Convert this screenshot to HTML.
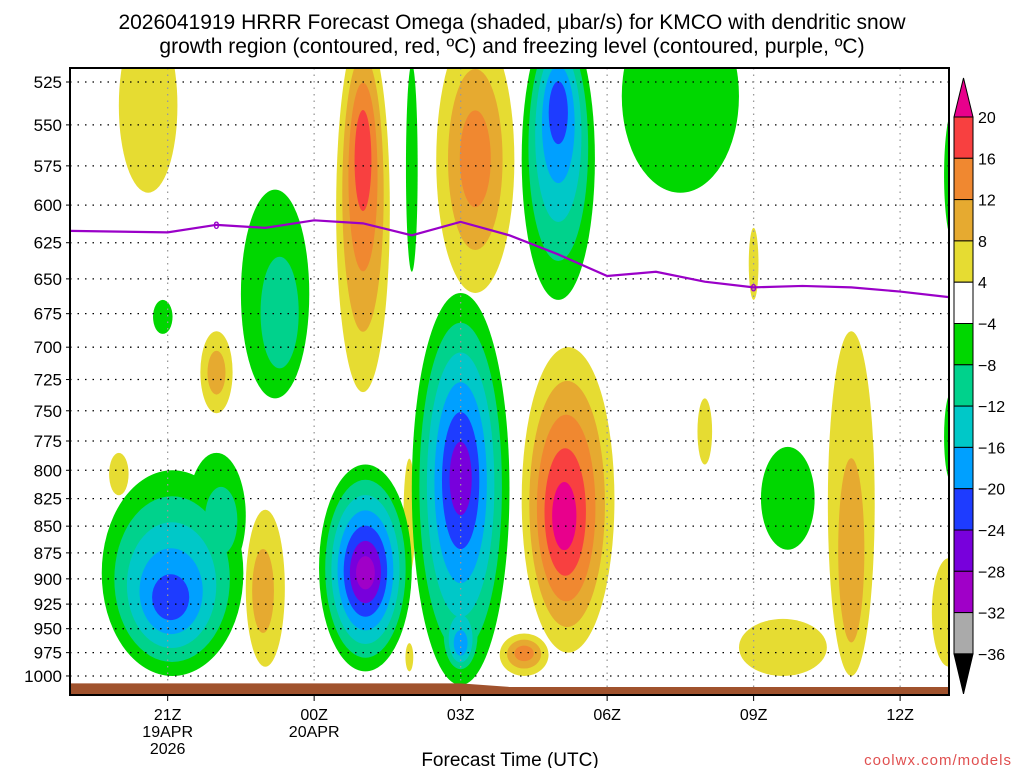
<!DOCTYPE html>
<html><head><meta charset="utf-8"><style>
body{margin:0;background:#fff;}
svg{display:block;font-family:"Liberation Sans","DejaVu Sans",sans-serif;}
</style></head><body>
<svg id="chart" width="1024" height="768" viewBox="0 0 1024 768" xmlns="http://www.w3.org/2000/svg">
<text x="512" y="29" text-anchor="middle" font-size="21">2026041919 HRRR Forecast Omega (shaded, μbar/s) for KMCO with dendritic snow</text>
<text x="512" y="53" text-anchor="middle" font-size="21">growth region (contoured, red, ºC) and freezing level (contoured, purple, ºC)</text>
<defs><clipPath id="pc"><rect x="70" y="68" width="879" height="627"/></clipPath></defs>
<g id="fills" clip-path="url(#pc)"></g>
<g id="grid"></g>
<g id="ground" clip-path="url(#pc)"></g>
<g id="frz" clip-path="url(#pc)"></g>
<rect x="70" y="68" width="879" height="627" fill="none" stroke="#000" stroke-width="2"/>
<g id="axes"></g>
<g id="cbar"></g>
<text x="510" y="766" text-anchor="middle" font-size="19">Forecast Time (UTC)</text>
<text x="1012" y="765" text-anchor="end" font-size="15" fill="#e05050" letter-spacing="1">coolwx.com/models</text>
</svg>
<script>
// data
const pressureTicks=[525,550,575,600,625,650,675,700,725,750,775,800,825,850,875,900,925,950,975,1000];
const timeTickHours=[2,5,8,11,14,17];
const timeTickLabels=["21Z","00Z","03Z","06Z","09Z","12Z"];
const timeTickSub1=["19APR","20APR","","","",""];
const timeTickSub2=["2026","","","","",""];
const cbarLabels=["20","16","12","8","4","−4","−8","−12","−16","−20","−24","−28","−32","−36"];
const cbarColors=["#f84040","#f08830","#e6aa30","#e6dc32","#ffffff","#00d700","#00d28c","#00c8c8","#00a0ff","#1e3cff","#7800dc","#a000c8","#aaaaaa"];
const posColors=["#e6dc32","#e6aa30","#f08830","#f84040","#e8008c"];
const negColors=["#00d700","#00d28c","#00c8c8","#00a0ff","#1e3cff","#7800dc","#a000c8"];
// blobs (hour since 19Z, pressure bounds, half-width hours, number of levels, core pressure, sign)
const blobHour=[1.6,6.0,8.3,10.2,9.3,4.0,3.0,1.0,16.0,14.6,13.0,14.0,6.95,18.0,2.1,6.05,8.0,8.0,10.0,12.5,4.2,1.9,14.7,7.0,18.1,18.05,6.95,3.0];
const blobPTop=[490,495,495,700,955,835,688,785,688,940,740,615,790,880,800,795,660,905,490,480,590,665,780,515,540,735,965,785];
const blobPBot=[592,735,660,975,1000,990,752,822,1000,1000,795,665,895,990,1000,995,1010,1000,665,592,740,690,872,645,625,810,995,900];
const blobHalfW=[0.6,0.55,0.8,0.95,0.5,0.4,0.33,0.2,0.48,0.9,0.15,0.1,0.12,0.35,1.45,0.95,1.0,0.45,0.75,1.2,0.7,0.2,0.55,0.12,0.2,0.15,0.08,0.6];
const blobLevels=[1,4,3,5,3,2,2,1,2,1,1,1,1,1,5,7,6,4,5,1,2,1,1,1,1,1,1,2];
const blobCoreP=[540,560,570,845,975,915,720,800,925,970,765,640,840,935,925,895,805,970,535,540,690,678,830,580,580,770,980,850];
const blobCoreH=[1.6,6.0,8.3,10.1,9.3,3.9,3.0,1.0,16.0,14.6,13.0,14.0,6.95,18.0,2.05,6.05,8.0,8.0,10.0,12.5,4.4,1.9,14.7,7.0,18.1,18.05,6.95,3.2];
const blobSign=[1,1,1,1,1,1,1,1,1,1,1,1,1,1,-1,-1,-1,-1,-1,-1,-1,-1,-1,-1,-1,-1,1,-1];
const frzHours=[0,2,3,4,5,6,7,8,9,10,11,12,13,14,15,16,17,18];
const frzPress=[617,618,613,615,610,612,620,611,620,633,648,645,652,656,655,656,659,663];
const groundHours=[0,8,9,18];
const groundPress=[1008,1008,1012,1012];

const NS="http://www.w3.org/2000/svg";
const X0=70,PXH=48.83,Y0=82,K=921.8;
const xs=h=>X0+h*PXH;
const ys=p=>Y0+Math.log(p/525)*K;
function mk(tag,attrs,parent){const e=document.createElementNS(NS,tag);for(const k in attrs)e.setAttribute(k,attrs[k]);parent.appendChild(e);return e;}

const fills=document.getElementById('fills');
const maxL=7;
for(let L=0;L<maxL;L++){
  for(let b=0;b<blobHour.length;b++){
    const n=blobLevels[b];if(L>=n)continue;
    const f=L/(n+0.15);
    const yT=ys(blobPTop[b]),yB=ys(blobPBot[b]);
    const cy0=(yT+yB)/2,ry0=(yB-yT)/2;
    const ycore=ys(blobCoreP[b]);
    const cx=xs(blobHour[b]+(blobCoreH[b]-blobHour[b])*f);
    const cy=cy0+(ycore-cy0)*f;
    const ry=ry0*(1-f),rx=blobHalfW[b]*PXH*(1-f*0.95);
    const col=blobSign[b]>0?posColors[L]:negColors[L];
    const e=mk('ellipse',{cx:cx,cy:cy,rx:rx,ry:ry,fill:col},fills);
    
    
  }
}
// grid
const grid=document.getElementById('grid');
pressureTicks.forEach(p=>{const l=mk('line',{x1:70,x2:949,y1:ys(p),y2:ys(p),stroke:'#000','stroke-width':1.3,'stroke-dasharray':'1.5 6'},grid);

});
timeTickHours.forEach(h=>{const l=mk('line',{x1:xs(h),x2:xs(h),y1:68,y2:695,stroke:'#999','stroke-width':1.3,'stroke-dasharray':'1.5 5'},grid);

});
// ground
const g=document.getElementById('ground');
let gp='M'+xs(groundHours[0])+',700';
groundHours.forEach((h,i)=>gp+=' L'+xs(h)+','+ys(groundPress[i]));
gp+=' L'+xs(groundHours[groundHours.length-1])+',700 Z';
const gr=mk('path',{d:gp,fill:'#a0522d'},g);


// freezing line
const frz=document.getElementById('frz');
const fl=mk('polyline',{points:frzHours.map((h,i)=>xs(h)+','+ys(frzPress[i])).join(' '),fill:'none',stroke:'#9a00c8','stroke-width':2.2},frz);


[[3,613],[14,656]].forEach(([h,p])=>{const t=mk('text',{x:xs(h),y:ys(p)+4,'text-anchor':'middle','font-size':11,fill:'#9a00c8','font-weight':'bold'},frz);t.textContent='0';

});
// axes
const ax=document.getElementById('axes');
pressureTicks.forEach(p=>{const t=mk('text',{x:62,y:ys(p)+6,'text-anchor':'end','font-size':17},ax);t.textContent=p;


const tk=mk('line',{x1:66,x2:70,y1:ys(p),y2:ys(p),stroke:'#000'},ax);

});
timeTickHours.forEach((h,i)=>{const x=xs(h);
const tk=mk('line',{x1:x,x2:x,y1:695,y2:701,stroke:'#000'},ax);


[[timeTickLabels[i],720],[timeTickSub1[i],737],[timeTickSub2[i],754]].forEach(([s,y])=>{if(!s)return;const t=mk('text',{x:x,y:y,'text-anchor':'middle','font-size':16},ax);t.textContent=s;

});});
// colorbar
const cb=document.getElementById('cbar');
const cbx=954,cbw=19,cbTop=117,step=41.3;
const tri=mk('path',{d:`M${cbx},${cbTop} L${cbx+cbw/2},78 L${cbx+cbw},${cbTop} Z`,fill:'#e8008c',stroke:'#000'},cb);


cbarColors.forEach((c,i)=>{const r=mk('rect',{x:cbx,y:cbTop+i*step,width:cbw,height:step,fill:c,stroke:'#000','stroke-width':1},cb);

});
const bot=cbTop+cbarColors.length*step;
const tri2=mk('path',{d:`M${cbx},${bot} L${cbx+cbw/2},${bot+40} L${cbx+cbw},${bot} Z`,fill:'#000',stroke:'#000'},cb);


cbarLabels.forEach((s,i)=>{const t=mk('text',{x:978,y:cbTop+i*step+6,'font-size':16},cb);t.textContent=s;

});
</script>
</body></html>
